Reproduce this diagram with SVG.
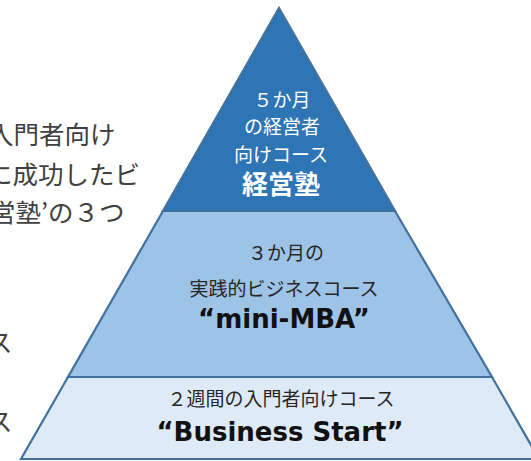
<svg xmlns="http://www.w3.org/2000/svg" width="531" height="461" viewBox="0 0 531 461">
<style>
.lvl{stroke:#41719C;stroke-width:2.2;stroke-linejoin:miter}
.jp{font-family:"Noto Sans CJK JP","Noto Sans",sans-serif}
.side{font-size:25.5px;fill:#404040}
.in{font-size:19px;text-anchor:middle}
.big{font-family:"DejaVu Sans","Noto Sans CJK JP",sans-serif;font-weight:bold;font-size:26px;text-anchor:middle;fill:#111}
</style>
<rect width="531" height="461" fill="#fff"/>
<g id="side-text" class="jp side">
<text x="-12" y="144">入門者向け</text>
<text x="-13" y="184">に成功したビ</text>
<text x="-10" y="222">営塾’の３つ</text>
<text x="-13" y="352">ス</text>
<text x="-13" y="431">ス</text>
</g>
<g id="level-bottom">
<polygon class="lvl" points="68,377 492,377 539,459 21,459" fill="#DEEBF7"/>
<text class="jp in" x="281" y="406" fill="#262626">２週間の入門者向けコース</text>
<text class="big" x="280" y="441">“Business Start”</text>
</g>
<g id="level-middle">
<polygon class="lvl" points="163,211 395,211 492,377 68,377" fill="#9DC3E6"/>
<text class="jp in" x="286" y="260" fill="#262626">３か月の</text>
<text class="jp in" x="284" y="296" fill="#262626">実践的ビジネスコース</text>
<text class="big" x="284" y="328">“mini-MBA”</text>
</g>
<g id="level-top">
<polygon class="lvl" points="279,8 395,211 163,211" fill="#2E75B6"/>
<text class="jp in" x="282" y="107" fill="#fff">５か月</text>
<text class="jp in" x="282" y="134" fill="#fff">の経営者</text>
<text class="jp in" x="281" y="162" fill="#fff">向けコース</text>
<text class="jp" x="281" y="194" fill="#fff" font-size="26" font-weight="bold" text-anchor="middle">経営塾</text>
</g>
<g id="connectors"/>
</svg>
